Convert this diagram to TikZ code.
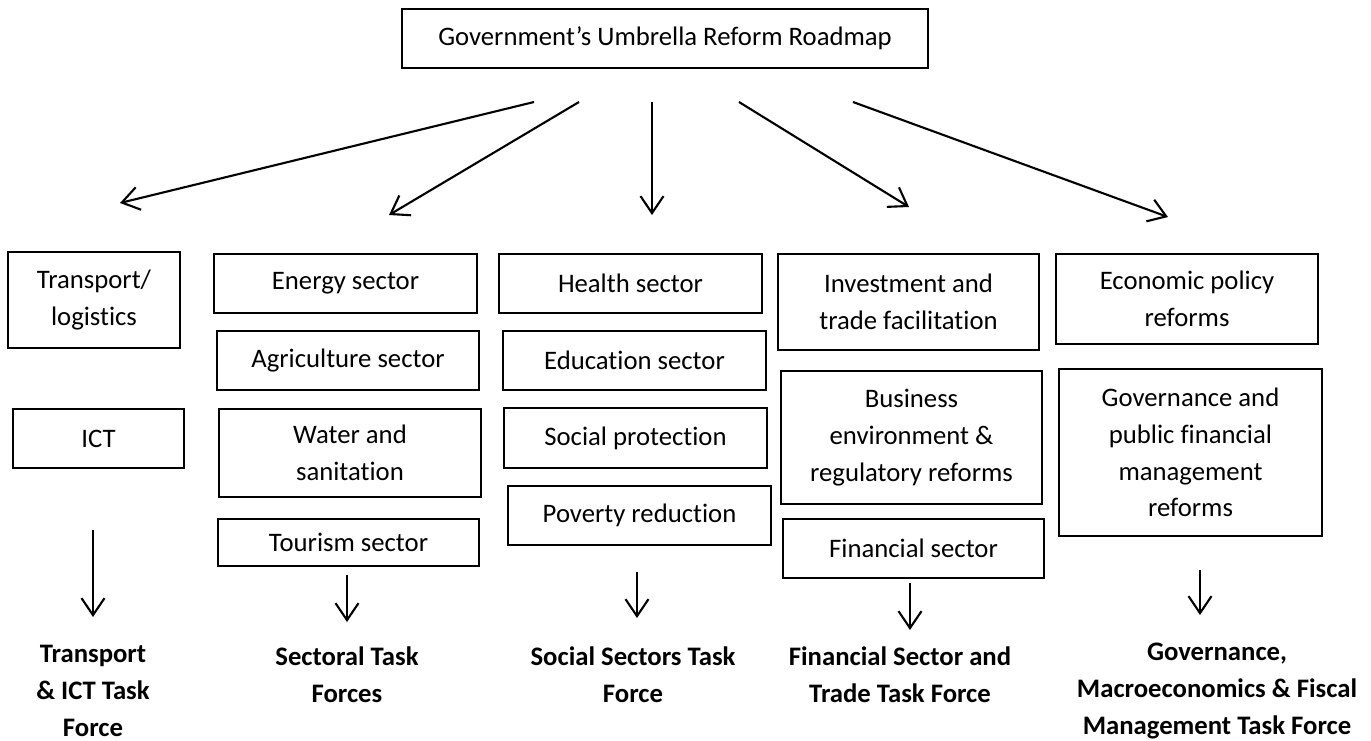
\documentclass[tikz,border=0pt]{standalone}
\usepackage{fontspec}
\setmainfont{Carlito}[Ligatures=NoCommon]
\usepackage{tikz}
\usetikzlibrary{positioning,arrows.meta}
\tikzset{
  flowarrow/.style={-{Straight Barb[length=3.4mm, width=4.6mm]}, line width=1.2pt},
  sectorbox/.style={draw, line width=1.1pt, inner sep=0pt, align=center},
  taskforce/.style={font=\fontsize{15.2}{21.2}\selectfont\bfseries, align=center, inner sep=0pt}
}

\begin{document}
\begin{tikzpicture}[>=Straight Barb, every node/.style={font=\fontsize{15.2}{20.9}\selectfont}]
  \useasboundingbox (0,0) rectangle (27.42,-14.80);
  \node[sectorbox, minimum width=10.52cm, minimum height=1.18cm] (roadmap) at (13.30,-0.77) {Government’s Umbrella Reform Roadmap};
  % column 1
  \node[sectorbox, minimum width=3.44cm, minimum height=1.92cm] (transport) at (1.88,-6.00) {Transport/\\ logistics};
  \node[sectorbox, minimum width=3.42cm, minimum height=1.18cm] (ict) at (1.97,-8.77) {ICT};
  % column 2
  \node[sectorbox, minimum width=5.26cm, minimum height=1.18cm] (energy) at (6.91,-5.67) {Energy sector};
  \node[sectorbox, minimum width=5.24cm, minimum height=1.18cm] (agri) at (6.96,-7.21) {Agriculture sector};
  \node[sectorbox, minimum width=5.24cm, minimum height=1.76cm] (water) at (7.00,-9.06) {Water and\\ sanitation};
  \node[sectorbox, minimum width=5.22cm, minimum height=0.94cm] (tourism) at (6.97,-10.85) {Tourism sector};
  % column 3
  \node[sectorbox, minimum width=5.26cm, minimum height=1.18cm] (health) at (12.61,-5.67) {Health sector};
  \node[sectorbox, minimum width=5.26cm, minimum height=1.18cm] (education) at (12.69,-7.21) {Education sector};
  \node[sectorbox, minimum width=5.26cm, minimum height=1.20cm] (protection) at (12.71,-8.76) {Social protection};
  \node[sectorbox, minimum width=5.26cm, minimum height=1.18cm] (poverty) at (12.79,-10.31) {Poverty reduction};
  % column 4
  \node[sectorbox, minimum width=5.22cm, minimum height=1.92cm] (investment) at (18.17,-6.04) {Investment and\\ trade facilitation};
  \node[sectorbox, minimum width=5.22cm, minimum height=2.66cm] (business) at (18.23,-8.75) {Business\\ environment \&\\ regulatory reforms};
  \node[sectorbox, minimum width=5.22cm, minimum height=1.18cm] (finsector) at (18.27,-10.97) {Financial sector};
  % column 5
  \node[sectorbox, minimum width=5.24cm, minimum height=1.80cm] (economic) at (23.74,-5.98) {Economic policy\\ reforms};
  \node[sectorbox, minimum width=5.26cm, minimum height=3.34cm] (governance) at (23.81,-9.05) {Governance and\\ public financial\\ management\\ reforms};
  % task forces
  \node[taskforce] (tfTransport) at (1.86,-13.82) {Transport\\ \& ICT Task\\ Force};
  \node[taskforce] (tfSectoral) at (6.94,-13.50) {Sectoral Task\\ Forces};
  \node[taskforce] (tfSocial) at (12.66,-13.50) {Social Sectors Task\\ Force};
  \node[taskforce] (tfFinance) at (18.00,-13.50) {Financial Sector and\\ Trade Task Force};
  \node[taskforce] (tfGovernance) at (24.34,-13.82) {Governance,\\ Macroeconomics \& Fiscal\\ Management Task Force};
  % arrow ends
  \coordinate (fromA) at (10.68,-2.04);
  \coordinate (fromB) at (11.58,-2.04);
  \coordinate (fromC) at (13.04,-2.04);
  \coordinate (fromD) at (14.78,-2.04);
  \coordinate (fromE) at (17.06,-2.04);
  \coordinate (toA) at (2.40,-4.06);
  \coordinate (toB) at (7.78,-4.30);
  \coordinate (toC) at (13.04,-4.30);
  \coordinate (toD) at (18.18,-4.14);
  \coordinate (toE) at (23.36,-4.34);
  \draw[flowarrow] (fromA) -- (toA);
  \draw[flowarrow] (fromB) -- (toB);
  \draw[flowarrow] (fromC) -- (toC);
  \draw[flowarrow] (fromD) -- (toD);
  \draw[flowarrow] (fromE) -- (toE);
  \coordinate (downA) at (1.86,-10.60);
  \coordinate (downB) at (6.94,-11.50);
  \coordinate (downC) at (12.74,-11.44);
  \coordinate (downD) at (18.20,-11.66);
  \coordinate (downE) at (24.00,-11.40);
  \coordinate (tipA) at (1.86,-12.34);
  \coordinate (tipB) at (6.94,-12.44);
  \coordinate (tipC) at (12.74,-12.36);
  \coordinate (tipD) at (18.20,-12.60);
  \coordinate (tipE) at (24.00,-12.30);
  \draw[flowarrow] (downA) -- (tipA);
  \draw[flowarrow] (downB) -- (tipB);
  \draw[flowarrow] (downC) -- (tipC);
  \draw[flowarrow] (downD) -- (tipD);
  \draw[flowarrow] (downE) -- (tipE);
\end{tikzpicture}
\end{document}
